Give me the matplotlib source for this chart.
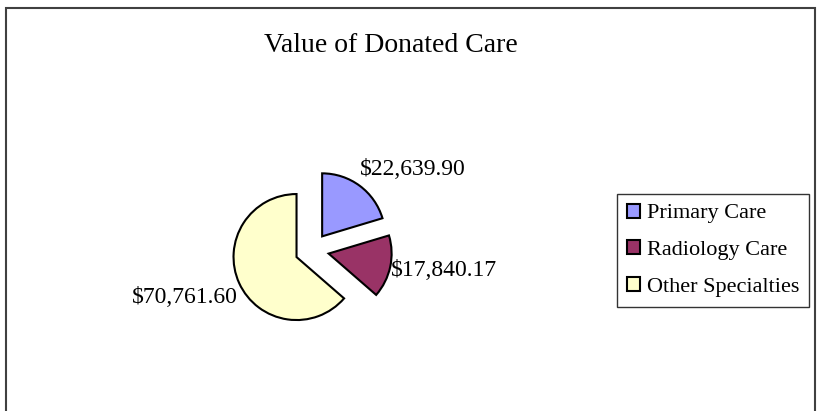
import numpy as np
import matplotlib
matplotlib.use("Agg")
import matplotlib.pyplot as plt
from matplotlib.patches import Rectangle

plt.rcParams['font.family'] = ['Liberation Serif', 'DejaVu Serif']

# data
categories = ['Primary Care', 'Radiology Care', 'Other Specialties']
values = [22639.90, 17840.17, 70761.60]
colors = ['#9999FF', '#993366', '#FFFFCC']

W, H = 822, 411
fig = plt.figure(figsize=(W / 100, H / 100), dpi=100)
ax = fig.add_axes([0, 0, 1, 1])

# outer chart frame (bottom edge runs off the image)
ax.add_patch(Rectangle((6, -20), 809, H - 8 + 20, fill=False,
                       edgecolor='#404040', linewidth=1.5))

ax.text(391, H - 45, 'Value of Donated Care', ha='center', va='center', fontsize=20)

cx, cy, r = 312, H - 250, 63
gap = 17  # explode offset, in pixels
wedges, _ = ax.pie(values, colors=colors, startangle=90, counterclock=False,
                   center=(cx, cy), radius=r, explode=[gap] * len(values),
                   wedgeprops=dict(edgecolor='black', linewidth=1.5),
                   frame=True)
ax.set_xlim(0, W)
ax.set_ylim(0, H)
ax.set_aspect('equal')
ax.axis('off')

# value labels next to the outer edge of each slice
for w, v in zip(wedges, values):
    mid = np.deg2rad((w.theta1 + w.theta2) / 2)
    c, s = np.cos(mid), np.sin(mid)
    ox, oy = w.center
    px, py = ox + (r + 1) * c, oy + (r + 1) * s + 10 * max(s, 0) - 3
    ha = 'left' if c > 0 else 'right'
    if s > 0.5:
        va = 'bottom'
    elif s < -0.3:
        va = 'top'
    else:
        va = 'center'
    ax.text(px, py, f'${v:,.2f}', ha=ha, va=va, fontsize=17)

leg = fig.legend(wedges, categories, loc='center left',
                 bbox_to_anchor=(617 / W, 1 - 250 / H), fontsize=16,
                 frameon=True, fancybox=False, edgecolor='black',
                 handlelength=0.6, handleheight=0.6, handletextpad=0.3,
                 labelspacing=0.75, borderpad=0.45, borderaxespad=0)
leg.get_frame().set_linewidth(1.0)
for hnd in leg.legend_handles:
    hnd.set_linewidth(1.5)

fig.savefig('out.png', dpi=100)
